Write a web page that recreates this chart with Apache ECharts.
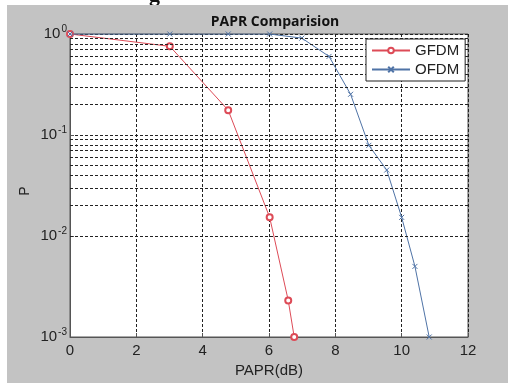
<!DOCTYPE html>
<html>
<head>
<meta charset="utf-8">
<script src="https://cdn.jsdelivr.net/npm/echarts@6/dist/echarts.min.js"></script>
<style>
  html, body { margin: 0; padding: 0; background: #fff; }
  #main { width: 508px; height: 383px; }
</style>
</head>
<body>
<div id="main"></div>
<script>
// PAPR(dB) vs P
const gfdmX = [0, 3.01, 4.77, 6.02, 6.58, 6.76]
const gfdmP = [1, 0.755, 0.176, 0.0153, 0.0023, 0.001]
const ofdmX = [0, 3.01, 4.77, 6.02, 6.99, 7.81, 8.46, 9.01, 9.55, 10.0, 10.4, 10.83]
const ofdmP = [1, 1, 1, 1, 0.91, 0.6, 0.253, 0.079, 0.045, 0.0153, 0.005, 0.001]
const decades = [0.001, 0.01, 0.1, 1]
const minorSteps = [2, 3, 4, 5, 6, 7, 8, 9]

const red = '#dd4b57'
const blue = '#4f73a6'
const gridLine = { color: '#222', type: [3, 2], width: 1 }

// minor log grid lines (2..9 x each decade)
var minorLines = []
decades.slice(0, 3).forEach(function(d) {
  minorSteps.forEach(function(k) {
    minorLines.push({ yAxis: +(d * k).toPrecision(3) })
  })
})

function pairs(xs, ys) {
  return xs.map(function(x, i) { return [x, ys[i]] })
}

const chart = echarts.init(document.getElementById('main'))
chart.setOption({
  backgroundColor: '#c3c3c3',
  animation: false,
  textStyle: { fontFamily: 'Liberation Sans, Arial, sans-serif' },
  graphic: [
    // white page margins of the screenshot
    { type: 'rect', left: 0, top: 0, shape: { width: 508, height: 5 }, style: { fill: '#fff' }, z: 100 },
    { type: 'rect', left: 0, top: 0, shape: { width: 7, height: 383 }, style: { fill: '#fff' }, z: 100 },
    // clipped heading letter from the page above
    { type: 'text', x: 149, y: 6, z: 101, style: { text: 'g', font: 'bold 22px "Liberation Serif"', fill: '#111', verticalAlign: 'bottom' } },
    { type: 'rect', left: 140, top: 5, shape: { width: 30, height: 10 }, style: { fill: '#c3c3c3' }, z: 102 },
    // y axis name
    { type: 'text', x: 25, y: 191, rotation: Math.PI / 2, z: 101,
      style: { text: 'P', font: '14px "Liberation Sans"', fill: '#222', align: 'center', verticalAlign: 'middle' } }
  ],
  title: {
    text: 'PAPR Comparision',
    left: 270,
    top: 10,
    textAlign: 'center',
    textStyle: { fontSize: 14, fontWeight: 'bold', color: '#111', fontFamily: 'Open Sans' }
  },
  legend: {
    left: 366,
    top: 39,
    z: 20,
    orient: 'vertical',
    backgroundColor: '#fff',
    borderColor: '#222',
    borderWidth: 1,
    borderRadius: 0,
    padding: [4, 6, 4, 5],
    itemGap: 4,
    itemWidth: 38,
    itemHeight: 7,
    textStyle: { fontSize: 15, color: '#222' },
    data: ['GFDM', 'OFDM']
  },
  grid: {
    left: 70,
    right: 40,
    top: 34,
    bottom: 37,
    show: true,
    backgroundColor: '#fff',
    borderColor: '#555',
    borderWidth: 1
  },
  xAxis: {
    type: 'value',
    min: 0,
    max: 12,
    interval: 2,
    name: 'PAPR(dB)',
    nameLocation: 'middle',
    nameGap: 26,
    nameTextStyle: { fontSize: 15, color: '#222' },
    axisLine: { lineStyle: { color: '#555' } },
    axisTick: { inside: true, length: 4, lineStyle: { color: '#555' } },
    axisLabel: { fontSize: 15, color: '#222', margin: 6 },
    splitLine: { show: true, lineStyle: gridLine }
  },
  yAxis: {
    type: 'log',
    logBase: 10,
    min: 0.001,
    max: 1,
    axisLine: { lineStyle: { color: '#555' } },
    axisTick: { inside: true, length: 4, lineStyle: { color: '#555' } },
    axisLabel: {
      margin: 3,
      formatter: function(v) {
        return '{b|10}{s|' + Math.round(Math.log10(v)) + '}'
      },
      rich: {
        b: { fontSize: 15, color: '#222' },
        s: { fontSize: 10, color: '#222', verticalAlign: 'top', padding: [0, 0, 10, 1] }
      }
    },
    splitLine: { show: true, lineStyle: gridLine }
  },
  series: [
    {
      name: 'GFDM',
      type: 'line',
      data: pairs(gfdmX, gfdmP),
      symbol: 'emptyCircle',
      symbolSize: 6,
      color: red,
      lineStyle: { width: 1, color: red },
      itemStyle: { color: red, borderWidth: 1 },
      z: 3,
      markLine: {
        silent: true,
        symbol: 'none',
        animation: false,
        label: { show: false },
        lineStyle: gridLine,
        emphasis: { disabled: true },
        data: minorLines
      }
    },
    {
      name: 'OFDM',
      type: 'line',
      data: pairs(ofdmX, ofdmP),
      symbol: 'path://M0,0L10,10M10,0L0,10',
      symbolSize: 5,
      color: blue,
      lineStyle: { width: 1, color: blue },
      itemStyle: { color: blue, borderColor: blue, borderWidth: 1 },
      z: 4
    }
  ]
})
</script>
</body>
</html>
